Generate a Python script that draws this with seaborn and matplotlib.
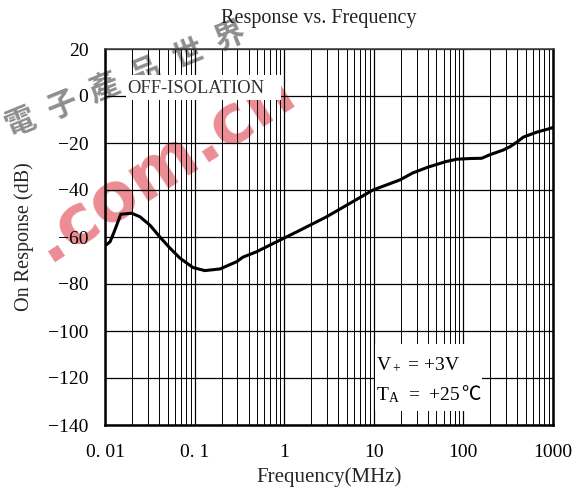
import matplotlib
matplotlib.use("Agg")
import matplotlib.pyplot as plt
import seaborn as sns
import pandas as pd
import numpy as np
from matplotlib.ticker import FixedLocator, NullFormatter
from matplotlib.patches import Rectangle

# Data
freq_mhz = [0.0103, 0.0114, 0.0129, 0.0150, 0.0199, 0.0246, 0.0318, 0.041, 0.053,
            0.0686, 0.096, 0.130, 0.192, 0.295, 0.345, 0.49, 0.90, 1.40, 2.97,
            9.8, 19.6, 27, 40, 64, 84, 120, 160, 197, 278, 330, 400, 466, 657, 930, 1000]
response_db = [-63.4, -62.0, -57.0, -50.3, -49.9, -51.4, -55.0, -60.0, -64.7,
               -69.0, -73.0, -74.3, -73.6, -70.5, -68.6, -66.3, -61.3, -57.7, -51.4,
               -40.0, -35.7, -32.8, -30.3, -27.9, -26.9, -26.6, -26.5, -25.0, -23.0, -21.6,
               -19.5, -17.5, -15.4, -13.8, -13.4]

xticks = [0.01, 0.1, 1, 10, 100, 1000]
xtick_labels = ["0. 01", "0. 1", "1", "10", "100", "1000"]
yticks = [20, 0, -20, -40, -60, -80, -100, -120, -140]

title = "Response vs. Frequency"
xlabel = "Frequency(MHz)"
ylabel = "On Response (dB)"
note = "OFF-ISOLATION"
watermark_chars = ["電", "子", "產", "品", "世", "界"]
watermark_site = ".com.cn"

sns.set_theme(style="white")
plt.rcParams['font.family'] = ['Liberation Serif', 'Noto Sans CJK SC', 'DejaVu Sans']
plt.rcParams['axes.unicode_minus'] = True
plt.rcParams['mathtext.fontset'] = 'custom'
plt.rcParams['mathtext.rm'] = 'Liberation Serif'
plt.rcParams['mathtext.it'] = 'Liberation Serif'

df = pd.DataFrame({"freq": freq_mhz, "resp": response_db})

fig = plt.figure(figsize=(5.84, 4.95), dpi=100)
fig.patch.set_facecolor("white")
ax = fig.add_axes([105/584, 1-425/495, 448/584, 376/495])
ax.set_facecolor("none")
ax.set_zorder(1)

# watermark behind the axes
for i, ch in enumerate(watermark_chars):
    px, py = 20 + 42 * i, 122 - 17 * i
    fig.text(px/584, 1-py/495, ch, rotation=22, color="#8e8e8e",
             fontsize=22, fontweight="bold", family=["Noto Sans CJK SC"],
             ha="center", va="center", zorder=-2)
fig.text(163/584, 1-165/495, watermark_site, rotation=33, color="#ec8c94",
         fontsize=49, fontweight="bold", family=["DejaVu Sans"], ha="center", va="center",
         zorder=-1)

ax.set_xscale("log")
ax.set_xlim(0.01, 1000)
ax.set_ylim(-140, 20)

minor = [m * 10.0**e for e in range(-2, 3) for m in range(2, 10)]
ax.xaxis.set_minor_locator(FixedLocator(minor))
ax.xaxis.set_minor_formatter(NullFormatter())
ax.set_xticks(xticks)
ax.set_xticklabels(xtick_labels)
ax.set_yticks(yticks)
ax.grid(True, which="major", axis="both", color="black", linewidth=0.9)
ax.grid(True, which="minor", axis="x", color="black", linewidth=0.7)
ax.set_axisbelow(True)

sns.lineplot(data=df, x="freq", y="resp", ax=ax, color="black", linewidth=2.2, zorder=3)

for s in ax.spines.values():
    s.set_color("black")
    s.set_linewidth(1.8)
ax.spines["top"].set_linewidth(1.2)
ax.spines["top"].set_color("#444444")

ax.tick_params(axis="both", which="both", length=0, labelsize=14, colors="black")
ax.tick_params(axis="y", pad=12)
ax.tick_params(axis="x", pad=14)

fig.text(319/584, 1-19/495, title, fontsize=14.5, color="#222222", ha="center", va="center")
ax.set_xlabel(xlabel, fontsize=15, labelpad=4)
ax.set_ylabel(ylabel, fontsize=14.5, labelpad=10)

# white boxes behind annotation texts
ax.add_patch(Rectangle((0.01715, -1.7), 0.92 - 0.01715, 10.6, facecolor="white",
                       edgecolor="none", zorder=2.5))
ax.text(0.0175, 3.4, note, fontsize=13.3, color="#333333", va="center", ha="left", zorder=4)

ax.add_patch(Rectangle((10.2, -134), 160 - 10.2, 28.5, facecolor="white",
                       edgecolor="none", zorder=2.5))
ax.text(10.7, -114.5, "V$_+$ = +3V", fontsize=14, color="black", va="center", ha="left", zorder=4)
t2 = ax.text(10.7, -127.2, "T$_\\mathrm{A}$  =  +25", fontsize=14, color="black",
             va="center", ha="left", zorder=4)
ax.annotate("℃", xy=(1, 0.5), xycoords=t2, va="center", ha="left", fontsize=14,
            family=["Noto Sans CJK SC"], fontweight="light", color="black", zorder=4)

fig.savefig("out.png", dpi=100, facecolor="white")
